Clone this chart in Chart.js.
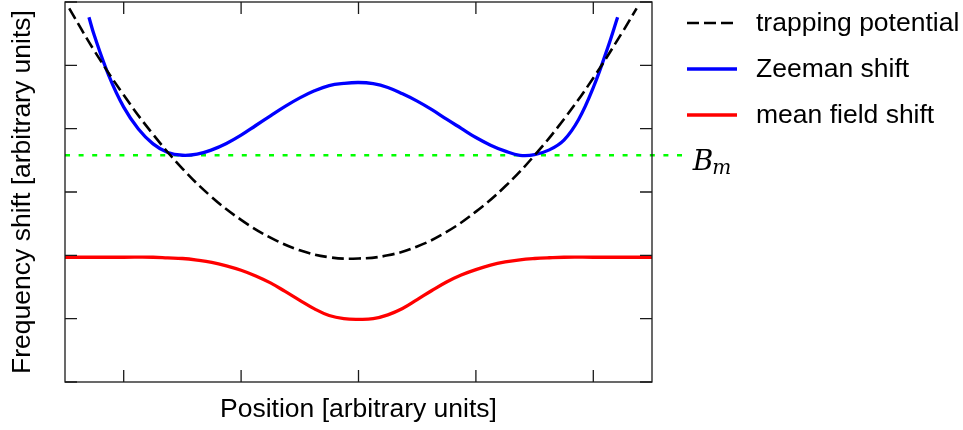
<!DOCTYPE html>
<html>
<head>
<meta charset="utf-8">
<title>Frequency shift vs position</title>
<script src="https://cdn.jsdelivr.net/npm/chart.js@4/dist/chart.umd.min.js"></script>
<style>
  html, body { margin: 0; padding: 0; background: #ffffff; }
  canvas { display: block; }
</style>
</head>
<body>
<canvas id="chart" width="963" height="430"></canvas>
<script>
// Trapping potential (dashed black parabola)
const trapPos = [-2.464, -2.25, -2.0, -1.75, -1.5, -1.25, -1.0, -0.75, -0.5, -0.25, 0,
                 0.25, 0.5, 0.75, 1.0, 1.25, 1.5, 1.75, 2.0, 2.25, 2.369];
const trapVal = [5.90, 5.23, 4.53, 3.91, 3.37, 2.92, 2.56, 2.28, 2.08, 1.97, 1.95,
                 2.00, 2.14, 2.37, 2.69, 3.09, 3.58, 4.15, 4.80, 5.53, 5.90];

// Zeeman shift (double well, blue)
const zeemanPos = [-2.296, -2.25, -2.125, -2.0, -1.875, -1.75, -1.625, -1.5, -1.375, -1.25,
                   -1.125, -1.0, -0.875, -0.75, -0.625, -0.5, -0.375, -0.25, -0.125, 0,
                   0.125, 0.25, 0.375, 0.5, 0.625, 0.75, 0.875, 1.0, 1.125, 1.25,
                   1.375, 1.5, 1.625, 1.75, 1.875, 2.0, 2.125, 2.207];
const zeemanVal = [5.76, 5.47, 4.83, 4.34, 3.995, 3.76, 3.625, 3.58, 3.597, 3.665,
                   3.766, 3.897, 4.05, 4.202, 4.352, 4.486, 4.598, 4.68, 4.715, 4.729,
                   4.71, 4.65, 4.55, 4.435, 4.30, 4.15, 4.005, 3.86, 3.74, 3.645,
                   3.58, 3.59, 3.665, 3.82, 4.145, 4.65, 5.29, 5.76];

// Mean field shift (red dip)
const meanPos = [-2.5, -2.25, -2.0, -1.75, -1.625, -1.5, -1.375, -1.25, -1.125, -1.0,
                 -0.875, -0.75, -0.625, -0.5, -0.375, -0.25, -0.125, 0,
                 0.125, 0.25, 0.375, 0.5, 0.625, 0.75, 0.875, 1.0, 1.125, 1.25,
                 1.375, 1.5, 1.625, 1.75, 2.0, 2.25, 2.5];
const meanVal = [1.97, 1.97, 1.97, 1.97, 1.96, 1.95, 1.925, 1.89, 1.835, 1.765,
                 1.675, 1.565, 1.43, 1.29, 1.155, 1.05, 1.0, 0.99,
                 1.0, 1.06, 1.16, 1.30, 1.445, 1.58, 1.69, 1.775, 1.845, 1.895,
                 1.93, 1.95, 1.962, 1.97, 1.97, 1.97, 1.97];

// Resonance field level B_m (dotted green, runs past the frame)
const fieldPos = [-2.5, 2.762];
const fieldVal = [3.58, 3.58];

// Axis tick positions
const xTicks = [-2, -1, 0, 1, 2];
const yTicks = [0, 1, 2, 3, 4, 5, 6];

const labels = ['trapping potential', 'Zeeman shift', 'mean field shift'];
const fieldLabel = ['B', 'm'];

const pts = (xs, ys) => xs.map((x, i) => ({ x: x, y: ys[i] }));

const SANS = '"Liberation Sans", Arial, Helvetica, sans-serif';
const TEXT_SIZE = 26.5;

// Border with inward tick marks on all four sides
const framePlugin = {
  id: 'frame',
  afterDatasetsDraw(chart) {
    const { ctx, chartArea: a, scales } = chart;
    ctx.save();
    ctx.strokeStyle = '#1a1a1a';
    ctx.lineWidth = 1.3;
    ctx.setLineDash([]);
    ctx.strokeRect(a.left, a.top, a.right - a.left, a.bottom - a.top);
    const len = 12;
    ctx.beginPath();
    xTicks.forEach(v => {
      const px = scales.x.getPixelForValue(v);
      ctx.moveTo(px, a.bottom); ctx.lineTo(px, a.bottom - len);
      ctx.moveTo(px, a.top); ctx.lineTo(px, a.top + len);
    });
    yTicks.forEach(v => {
      const py = scales.y.getPixelForValue(v);
      ctx.moveTo(a.left, py); ctx.lineTo(a.left + len, py);
      ctx.moveTo(a.right, py); ctx.lineTo(a.right - len, py);
    });
    ctx.stroke();
    ctx.restore();
  }
};

// Italic B_m label at the end of the dotted line
const fieldLabelPlugin = {
  id: 'fieldLabel',
  afterDatasetsDraw(chart) {
    const meta = chart.getDatasetMeta(3);
    const end = meta.data[meta.data.length - 1];
    const { ctx } = chart;
    ctx.save();
    ctx.fillStyle = '#000000';
    ctx.textBaseline = 'alphabetic';
    ctx.textAlign = 'left';
    ctx.font = 'italic 28px "DejaVu Serif", serif';
    const bx = end.x + 10, by = end.y + 15;
    ctx.fillText(fieldLabel[0], bx, by);
    const w = ctx.measureText(fieldLabel[0]).width;
    ctx.font = 'italic 20px "DejaVu Serif", serif';
    ctx.fillText(fieldLabel[1], bx + w - 1, by + 4);
    ctx.restore();
  }
};

// Line-sample legend to the right of the frame
const sideLegendPlugin = {
  id: 'sideLegend',
  afterDraw(chart) {
    const { ctx, chartArea: a } = chart;
    const x0 = a.right + 35, lineW = 50, gap = 19;
    const y0 = 23, step = 46;
    ctx.save();
    [0, 1, 2].forEach((di, row) => {
      const ds = chart.data.datasets[di];
      const y = y0 + row * step;
      ctx.strokeStyle = ds.borderColor;
      ctx.lineWidth = ds.borderWidth;
      ctx.setLineDash(ds.borderDash || []);
      ctx.beginPath();
      ctx.moveTo(x0, y);
      ctx.lineTo(x0 + lineW, y);
      ctx.stroke();
      ctx.setLineDash([]);
      ctx.fillStyle = '#000000';
      ctx.font = TEXT_SIZE + 'px ' + SANS;
      ctx.textBaseline = 'middle';
      ctx.textAlign = 'left';
      ctx.fillText(ds.label, x0 + lineW + gap, y + 1);
    });
    ctx.restore();
  }
};

new Chart(document.getElementById('chart'), {
  type: 'line',
  data: {
    datasets: [
      {
        label: labels[0],
        data: pts(trapPos, trapVal),
        borderColor: '#000000',
        borderWidth: 2.6,
        borderDash: [12, 5],
        tension: 0.4,
        pointRadius: 0
      },
      {
        label: labels[1],
        data: pts(zeemanPos, zeemanVal),
        borderColor: '#0000ff',
        borderWidth: 3.3,
        tension: 0.4,
        pointRadius: 0
      },
      {
        label: labels[2],
        data: pts(meanPos, meanVal),
        borderColor: '#ff0000',
        borderWidth: 3.3,
        tension: 0.4,
        pointRadius: 0
      },
      {
        label: 'B_m',
        data: pts(fieldPos, fieldVal),
        borderColor: '#00ff00',
        borderWidth: 2.3,
        borderDash: [5, 8.6],
        pointRadius: 0,
        tension: 0,
        clip: false
      }
    ]
  },
  options: {
    responsive: false,
    animation: false,
    events: [],
    layout: { padding: { top: 2, right: 311, left: 0, bottom: 0 } },
    plugins: {
      legend: { display: false },
      tooltip: { enabled: false }
    },
    scales: {
      x: {
        type: 'linear',
        min: -2.5,
        max: 2.5,
        ticks: { display: false, stepSize: 1 },
        grid: { display: false },
        border: { display: false },
        title: {
          display: true,
          text: 'Position [arbitrary units]',
          color: '#000000',
          font: { family: SANS, size: TEXT_SIZE },
          padding: { top: 0, bottom: 4 }
        },
        afterFit(scale) { scale.height = 48; }
      },
      y: {
        type: 'linear',
        min: 0,
        max: 6,
        ticks: { display: false, stepSize: 1 },
        grid: { display: false },
        border: { display: false },
        title: {
          display: true,
          text: 'Frequency shift [arbitrary units]',
          color: '#000000',
          font: { family: SANS, size: TEXT_SIZE },
          padding: { top: 7, bottom: 0 }
        },
        afterFit(scale) { scale.width = 65; }
      }
    }
  },
  plugins: [framePlugin, fieldLabelPlugin, sideLegendPlugin]
});
</script>
</body>
</html>
